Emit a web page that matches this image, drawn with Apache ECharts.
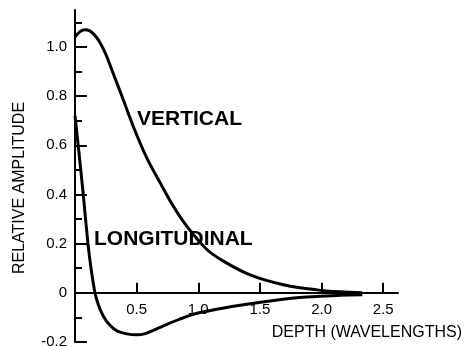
<!DOCTYPE html>
<html>
<head>
<meta charset="utf-8">
<script src="https://cdn.jsdelivr.net/npm/echarts@6/dist/echarts.min.js"></script>
<style>
  html, body { margin: 0; padding: 0; background: #fff; }
  #chart { width: 465px; height: 347px; }
</style>
</head>
<body>
<div id="chart"></div>
<script>
// Depth in wavelengths
const verticalDepth = [0, 0.04, 0.08, 0.12, 0.16, 0.2, 0.25, 0.3, 0.38, 0.486, 0.583, 0.689, 0.794, 0.908, 1.07, 1.2, 1.42, 1.69, 1.96, 2.15, 2.33];
const verticalAmp   = [1.04, 1.062, 1.07, 1.065, 1.047, 1.02, 0.97, 0.905, 0.80, 0.66, 0.548, 0.449, 0.355, 0.27, 0.176, 0.13, 0.073, 0.033, 0.012, 0.004, 0.0];

const longDepth = [0, 0.03, 0.067, 0.105, 0.13, 0.162, 0.19, 0.23, 0.28, 0.34, 0.42, 0.5, 0.57, 0.64, 0.71, 0.85, 0.99, 1.26, 1.52, 1.8, 1.96, 2.15, 2.33];
const longAmp   = [0.72, 0.58, 0.4, 0.2, 0.1, 0.0, -0.05, -0.095, -0.13, -0.155, -0.167, -0.171, -0.166, -0.152, -0.136, -0.107, -0.083, -0.057, -0.037, -0.02, -0.015, -0.01, -0.008];

const xTicks = [0.5, 1.0, 1.5, 2.0, 2.5];
const yTicks = [-0.2, 0, 0.2, 0.4, 0.6, 0.8, 1.0];
const yMinorTicks = [-0.1, 0.1, 0.3, 0.5, 0.7, 0.9, 1.1];

const FONT = '"Liberation Sans", Arial, sans-serif';
const Y_MIN = -0.2, Y_MAX = 1.15;
const GRID = { left: 75, right: 67, top: 10, bottom: 5 };
const CH = 347;

// distance in px from the grid's bottom edge up to the zero line
const plotH = CH - GRID.top - GRID.bottom;
const zeroLift = plotH * (0 - Y_MIN) / (Y_MAX - Y_MIN);

function pairs(xs, ys) { return xs.map((x, i) => [x, ys[i]]); }

const chart = echarts.init(document.getElementById('chart'), null, { renderer: 'canvas' });

chart.setOption({
  animation: false,
  backgroundColor: '#fff',
  grid: Object.assign({ containLabel: false, outerBoundsMode: 'none' }, GRID),
  xAxis: {
    type: 'value',
    min: 0, max: 2.62,
    position: 'bottom',
    offset: -zeroLift,
    axisLine: { onZero: false, lineStyle: { color: '#000', width: 2 } },
    axisTick: { show: true, inside: true, length: 10, customValues: xTicks, lineStyle: { color: '#000', width: 2 } },
    axisLabel: {
      customValues: xTicks,
      formatter: v => v.toFixed(1),
      color: '#000', fontSize: 15, fontFamily: FONT, margin: 10
    },
    splitLine: { show: false }
  },
  yAxis: [{
    type: 'value',
    min: Y_MIN, max: Y_MAX,
    axisLine: { show: true, onZero: false, lineStyle: { color: '#000', width: 2 } },
    axisTick: { show: true, inside: true, length: 12, customValues: yTicks, lineStyle: { color: '#000', width: 2 } },
    axisLabel: {
      customValues: yTicks,
      formatter: v => (Math.abs(v) < 1e-9 ? '0' : v.toFixed(1)),
      color: '#000', fontSize: 15, fontFamily: FONT, margin: 8
    },
    splitLine: { show: false }
  }, {
    // short minor ticks at odd tenths
    type: 'value',
    position: 'left',
    min: Y_MIN, max: Y_MAX,
    axisLine: { show: false },
    axisTick: { show: true, inside: true, length: 7, customValues: yMinorTicks, lineStyle: { color: '#000', width: 2 } },
    axisLabel: { show: false },
    splitLine: { show: false }
  }],
  series: [{
    name: 'VERTICAL',
    type: 'line',
    data: pairs(verticalDepth, verticalAmp),
    smooth: 0.3,
    symbol: 'none',
    lineStyle: { color: '#000', width: 3 }
  }, {
    name: 'LONGITUDINAL',
    type: 'line',
    data: pairs(longDepth, longAmp),
    smooth: 0.3,
    symbol: 'none',
    lineStyle: { color: '#000', width: 3 }
  }],
  graphic: [{
    type: 'text', left: 137, top: 109,
    style: { text: 'VERTICAL', fill: '#000', font: 'bold 21px ' + FONT }
  }, {
    type: 'text', left: 94, top: 229,
    style: { text: 'LONGITUDINAL', fill: '#000', font: 'bold 21px ' + FONT }
  }, {
    type: 'text', right: 3, top: 325,
    style: { text: 'DEPTH (WAVELENGTHS)', fill: '#000', font: '16px ' + FONT }
  }, {
    type: 'text', x: 20, y: 188, rotation: Math.PI / 2,
    style: { text: 'RELATIVE AMPLITUDE', fill: '#000', font: '16px ' + FONT, align: 'center', verticalAlign: 'middle' }
  }]
});
</script>
</body>
</html>
